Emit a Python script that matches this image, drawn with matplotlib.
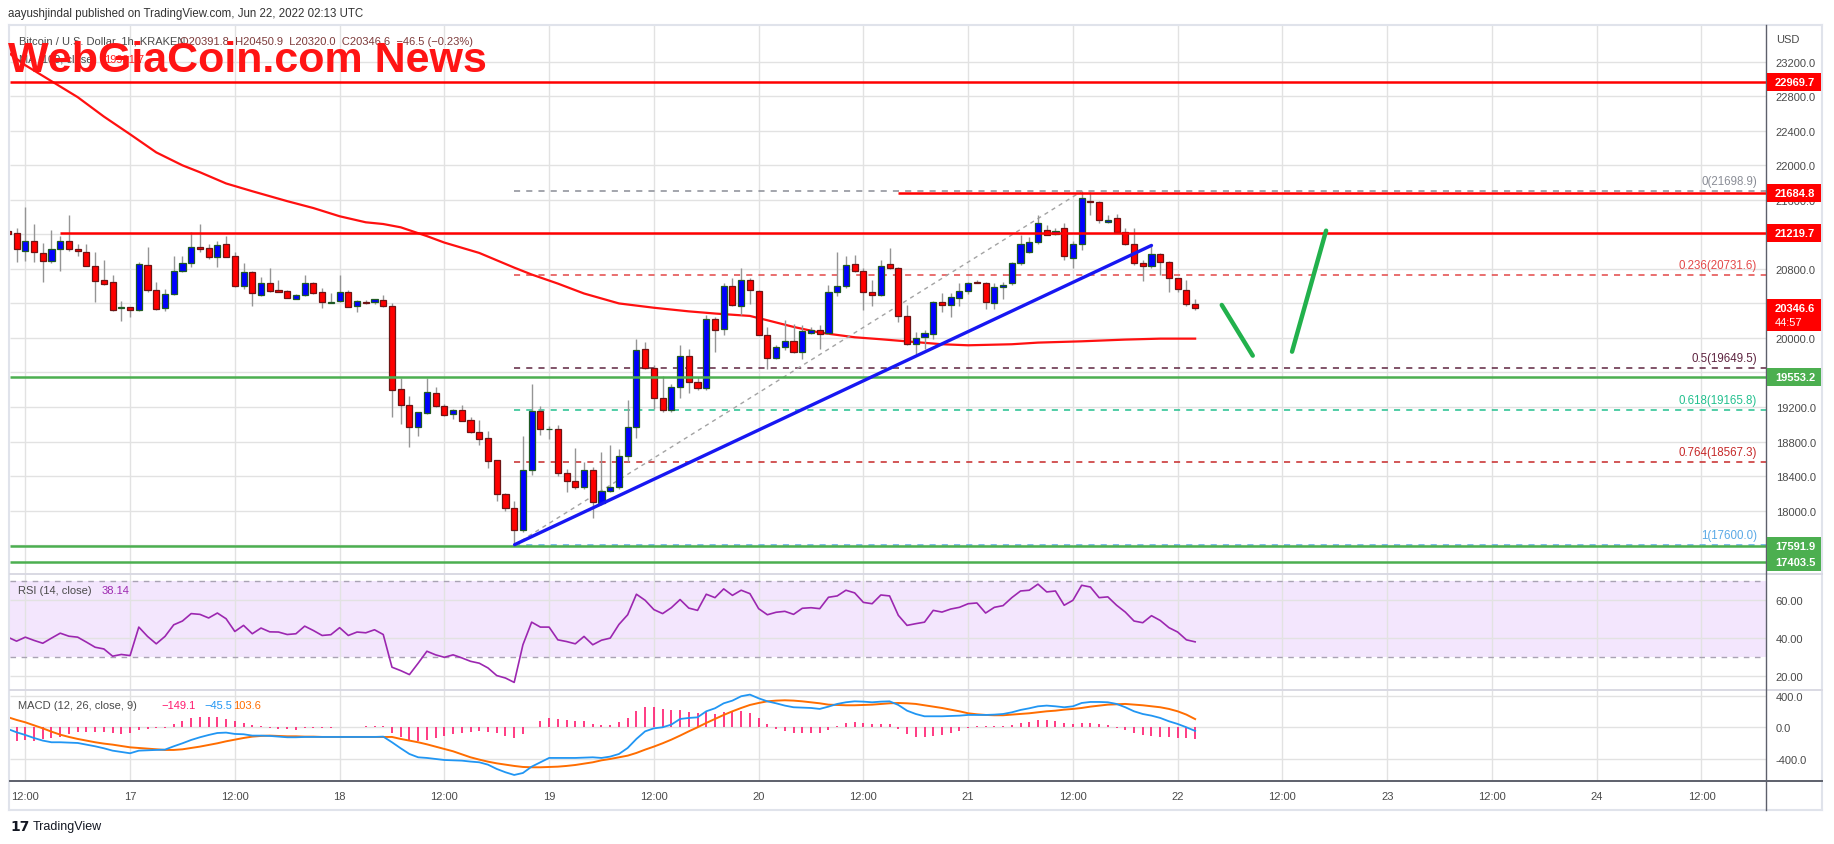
import numpy as np
import matplotlib
matplotlib.use("Agg")
import matplotlib.pyplot as plt
from matplotlib.patches import Rectangle
from matplotlib.lines import Line2D
from matplotlib.ticker import FormatStrFormatter

plt.rcParams['font.family'] = ['Liberation Sans', 'DejaVu Sans']

# ---------------- data (hours since 16 Jun 2022 12:00 UTC, 1h candles) ----------------
hours = list(range(-2, 135))

opens = [21240, 21214, 21005, 21129, 20982, 20889, 21028, 21121, 21028, 20994,
         20831, 20673, 20646, 20345, 20356, 20321, 20843, 20553, 20344, 20506,
         20773, 20870, 21051, 21040, 20943, 21086, 20947, 20607, 20762, 20503,
         20634, 20557, 20542, 20456, 20495, 20634, 20530, 20410, 20433, 20530,
         20368, 20421, 20414, 20437, 20368, 19405, 19219, 18964, 19127, 19359,
         19208, 19115, 19165, 19050, 18907, 18837, 18582, 18188, 18025, 17770,
         18474, 19154, 18940, 18944, 18433, 18348, 18270, 18471, 18084, 18224,
         18270, 18630, 18967, 19872, 19652, 19303, 19160, 19431, 19791, 19489,
         19419, 20221, 20105, 20604, 20372, 20673, 20546, 20039, 19768, 19896,
         19965, 19838, 20062, 20093, 20058, 20534, 20604, 20855, 20778, 20534,
         20495, 20855, 20805, 20252, 19934, 20008, 20043, 20418, 20379, 20464,
         20546, 20650, 20635, 20406, 20592, 20631, 20867, 20999, 21107, 21250,
         21200, 21277, 20929, 21091, 21591, 21579, 21339, 21393, 21231, 21084,
         20871, 20836, 20968, 20882, 20697, 20561, 20391.8]
highs = [21290, 21272, 21515, 21322, 21102, 21245, 21187, 21426, 21090, 21090,
         20994, 20905, 20731, 20425, 20360, 20878, 21051, 20646, 20568, 20955,
         20955, 21233, 21322, 21090, 21129, 21187, 21001, 20870, 20770, 20704,
         20808, 20677, 20557, 20510, 20731, 20646, 20584, 20522, 20731, 20557,
         20445, 20437, 20452, 20499, 20406, 19532, 19332, 19146, 19540, 19428,
         19235, 19177, 19223, 19081, 19050, 18918, 18590, 18203, 18110, 18868,
         19467, 19216, 18985, 18986, 18483, 18723, 18560, 18502, 18677, 18754,
         18715, 19284, 19992, 19954, 19683, 19559, 19470, 19923, 19876, 19547,
         20263, 20244, 20631, 20689, 20805, 20689, 20553, 20128, 19915, 20205,
         20166, 20147, 20128, 20147, 20619, 20999, 20948, 20960, 20805, 20670,
         20902, 21037, 20824, 20379, 20070, 20089, 20426, 20526, 20526, 20631,
         20650, 20670, 20650, 20631, 20650, 20882, 21192, 21173, 21424, 21308,
         21269, 21335, 21122, 21698.9, 21687, 21587, 21424, 21436, 21269, 21277,
         20902, 21076, 20979, 20890, 20700, 20670, 20450.9]
lows = [21180, 20878, 20897, 20885, 20653, 20870, 20781, 21013, 20955, 20831,
        20422, 20615, 20317, 20201, 20240, 20317, 20530, 20329, 20317, 20499,
        20762, 20820, 20994, 20916, 20827, 20936, 20588, 20568, 20368, 20491,
        20530, 20530, 20460, 20448, 20483, 20507, 20352, 20406, 20421, 20356,
        20306, 20394, 20394, 20364, 19084, 19003, 18732, 18868, 19119, 19196,
        19100, 19061, 19034, 18899, 18760, 18497, 18114, 17998, 17600, 17747,
        18412, 18876, 18830, 18406, 18220, 18251, 18251, 17910, 18060, 18212,
        18251, 18560, 18839, 19644, 19180, 19141, 19141, 19303, 19365, 19392,
        19392, 19838, 20031, 20372, 20271, 20399, 20031, 19644, 19752, 19857,
        19826, 19760, 20050, 19876, 20050, 20484, 20581, 20766, 20321, 20372,
        20488, 20797, 20186, 19923, 19818, 19876, 19992, 20302, 20244, 20372,
        20515, 20631, 20341, 20341, 20457, 20611, 20844, 20979, 21084, 21192,
        21192, 20902, 20805, 21018, 21424, 21327, 21330, 21211, 21076, 20844,
        20658, 20813, 20728, 20534, 20534, 20372, 20320.0]
closes = [21200, 21028, 21129, 20994, 20889, 21025, 21121, 21028, 21005, 20835,
          20657, 20622, 20321, 20355, 20321, 20854, 20553, 20333, 20506, 20773,
          20870, 21051, 21036, 20943, 21075, 20943, 20607, 20765, 20518, 20634,
          20549, 20538, 20468, 20495, 20634, 20526, 20414, 20418, 20530, 20364,
          20425, 20410, 20449, 20368, 19393, 19219, 18964, 19138, 19370, 19208,
          19111, 19165, 19042, 18907, 18825, 18578, 18188, 18025, 17770, 18474,
          19154, 18945, 18948, 18433, 18348, 18270, 18471, 18096, 18224, 18270,
          18630, 18967, 19865, 19652, 19303, 19160, 19431, 19791, 19489, 19419,
          20221, 20093, 20604, 20379, 20673, 20553, 20039, 19768, 19896, 19965,
          19838, 20081, 20093, 20050, 20534, 20604, 20844, 20774, 20534, 20495,
          20836, 20805, 20252, 19934, 20000, 20058, 20418, 20379, 20476, 20546,
          20639, 20635, 20418, 20592, 20615, 20867, 21091, 21107, 21335, 21196,
          21238, 20952, 21091, 21618, 21579, 21366, 21366, 21231, 21084, 20871,
          20836, 20975, 20882, 20697, 20565, 20392, 20346.6]

ma_hours = [-2, 0, 3, 6, 9, 12, 15, 18, 20, 23, 26, 30, 33, 36, 39, 41, 43, 46, 48, 52, 56,
            58, 61, 64, 68, 72, 76, 79, 83, 85, 88, 91, 95, 98, 101, 105, 108, 113, 116,
            121, 126, 130, 134]
ma_values = [23310, 23160, 22975, 22790, 22565, 22360, 22150, 22000, 21920, 21790, 21700,
             21585, 21505, 21410, 21340, 21320, 21282, 21180, 21105, 20985, 20815,
             20735, 20630, 20515, 20400, 20350, 20308, 20283, 20255, 20205, 20128, 20062,
             20008, 19985, 19960, 19927, 19915, 19927, 19946, 19961, 19981, 19992, 19992]

rsi = [40.6, 38.5, 40.6, 38.9, 37.4, 40.1, 42.7, 41.1, 40.6, 38.0,
       35.3, 34.4, 30.6, 31.5, 30.9, 45.9, 41.0, 37.1, 41.0, 47.1,
       49.1, 53.0, 52.6, 50.7, 53.3, 50.3, 43.6, 46.8, 42.4, 45.4,
       43.4, 43.3, 42.0, 42.4, 46.4, 44.1, 41.5, 41.9, 45.6, 41.5,
       43.3, 42.9, 44.5, 42.0, 24.8, 23.0, 20.9, 26.9, 33.2, 31.3,
       30.0, 31.3, 29.7, 27.9, 26.9, 24.4, 20.4, 19.1, 16.8, 36.6,
       48.5, 45.9, 45.9, 39.2, 38.3, 37.1, 41.0, 36.6, 39.0, 40.1,
       47.3, 52.4, 63.2, 60.0, 55.1, 53.0, 56.1, 60.4, 55.9, 54.7,
       63.2, 61.4, 66.0, 62.6, 65.3, 63.5, 55.6, 52.4, 53.7, 54.2,
       52.6, 55.8, 56.1, 55.6, 61.6, 62.3, 65.3, 63.9, 58.9, 58.2,
       62.8, 62.3, 52.1, 46.8, 47.7, 48.5, 54.7, 53.8, 55.4, 56.3,
       58.2, 58.6, 53.3, 56.3, 57.2, 61.4, 64.9, 65.3, 68.5, 64.4,
       64.9, 57.4, 60.0, 67.9, 67.0, 61.4, 61.8, 57.4, 53.8, 49.1,
       48.2, 51.9, 49.4, 45.6, 43.3, 39.2, 38.14]

macd = [-21, -63, -97, -135, -168, -189, -189, -194, -198, -219,
        -240, -265, -295, -312, -328, -295, -290, -286, -282, -240,
        -202, -160, -126, -97, -72, -67, -84, -88, -105, -105,
        -109, -118, -126, -126, -122, -122, -122, -122, -122, -122,
        -122, -122, -122, -118, -189, -265, -337, -379, -387, -400,
        -413, -417, -421, -433, -442, -472, -526, -568, -602, -577,
        -497, -442, -387, -387, -387, -387, -383, -379, -387, -370,
        -337, -261, -147, -51, -13, 0, 34, 105, 118, 126,
        202, 240, 303, 337, 392, 413, 366, 328, 303, 274,
        253, 248, 244, 232, 261, 295, 316, 328, 324, 316,
        324, 328, 282, 210, 168, 139, 139, 139, 143, 147,
        156, 156, 156, 160, 168, 189, 219, 240, 265, 274,
        265, 253, 265, 307, 320, 320, 316, 295, 253, 202,
        168, 147, 118, 76, 42, 0, -45.5]
signal = [128, 93, 63, 25, -13, -55, -93, -122, -147, -168,
          -189, -206, -219, -236, -253, -261, -269, -278, -286, -286,
          -278, -261, -244, -223, -202, -177, -156, -135, -118, -109,
          -105, -109, -114, -114, -118, -118, -122, -122, -122, -122,
          -122, -122, -122, -122, -122, -147, -168, -189, -215, -244,
          -274, -303, -341, -379, -408, -434, -455, -472, -488, -501,
          -505, -505, -501, -497, -488, -476, -459, -442, -417, -400,
          -379, -358, -324, -282, -244, -202, -156, -105, -51, 0,
          55, 105, 156, 202, 244, 282, 307, 328, 337, 341,
          337, 328, 316, 303, 286, 282, 278, 278, 282, 286,
          295, 303, 307, 303, 295, 278, 261, 244, 223, 202,
          177, 164, 156, 152, 152, 160, 168, 177, 189, 202,
          210, 223, 232, 244, 261, 274, 286, 290, 295, 286,
          278, 265, 253, 232, 202, 160, 103.6]
histogram = [-160, -168, -160, -168, -147, -139, -126, -84, -63, -63,
             -63, -63, -76, -80, -76, -34, -21, -13, -4, 42,
             84, 114, 131, 126, 126, 105, 76, 59, 29, 13,
             -8, -17, -25, -29, -8, -8, -8, -4, -2, -2,
             -1, 13, 17, 17, -72, -118, -156, -177, -156, -139,
             -114, -88, -72, -55, -51, -63, -76, -105, -135, -84,
             8, 84, 114, 101, 93, 84, 84, 42, 25, 29,
             67, 118, 210, 253, 253, 232, 223, 219, 194, 177,
             198, 168, 198, 198, 202, 177, 118, 42, -21, -51,
             -76, -76, -76, -67, -29, 17, 55, 72, 55, 42,
             42, 42, -21, -84, -118, -126, -105, -97, -72, -42,
             -13, 13, 13, 13, 17, 34, 59, 72, 97, 97,
             76, 55, 42, 59, 59, 42, 29, -4, -34, -76,
             -97, -105, -118, -118, -135, -139, -149.1]

fib_levels = [0, 0.236, 0.5, 0.618, 0.764, 1]
fib_prices = [21698.9, 20731.6, 19649.5, 19165.8, 18567.3, 17600.0]
fib_colors = ['#8a8d96', '#e34848', '#5e2440', '#22c08e', '#c62828', '#5aa9e6']
fib_start, fib_end = 56, 121

resistance_lines = [22969.7, 21684.8, 21219.7]
resistance_start = [-2, 100, 4]
support_lines = [19553.2, 17591.9, 17403.5]

time_tick_hours = list(range(0, 193, 12))
time_tick_labels = ['12:00', '17', '12:00', '18', '12:00', '19', '12:00', '20', '12:00',
                    '21', '12:00', '22', '12:00', '23', '12:00', '24', '12:00']

trend_hours = [56.05, 129.0]
trend_prices = [17605, 21072]
proj1_hours, proj1_prices = [137.05, 140.6], [20382, 19795]
proj2_hours, proj2_prices = [145.1, 149.0], [19841, 21243]

# ---------------- figure ----------------
W, H, DPI = 1834, 845, 100
fig = plt.figure(figsize=(W / DPI, H / DPI), dpi=DPI)
fig.patch.set_facecolor('white')

X_LEFT, X_AXIS, X_RIGHT = 10, 1766, 1822


def rect(top, bottom):
    return [X_LEFT / W, 1 - bottom / H, (X_AXIS - X_LEFT) / W, (bottom - top) / H]


ax_p = fig.add_axes(rect(26, 575))
ax_r = fig.add_axes(rect(575, 691))
ax_m = fig.add_axes(rect(691, 782.3))
T0, T1 = -1.753, 199.39
GRID = '#e2e2e2'
TXT = '#4a4a4a'

for ax in (ax_p, ax_r, ax_m):
    for s in ax.spines.values():
        s.set_visible(False)
    ax.set_facecolor('none')
    ax.vlines(time_tick_hours, -1e5, 1e5, color=GRID, lw=1, zorder=0.6)
    ax.yaxis.tick_right()
    ax.tick_params(axis='y', length=0, pad=7, labelsize=8, labelcolor=TXT)
    ax.tick_params(axis='x', length=0, labelbottom=False)
    ax.set_xlim(T0, T1)

ax_p.set_ylim(17265, 23626)
ax_r.set_ylim(12.8, 73.84)
ax_m.set_ylim(-682, 471)

# price panel
pticks = np.arange(17600, 23201, 400)
ax_p.hlines(pticks, T0, T1, color=GRID, lw=1, zorder=0.6)
ax_p.set_yticks(pticks)
ax_p.yaxis.set_major_formatter(FormatStrFormatter('%.1f'))

t = np.array(hours, dtype=float)
o = np.array(opens); h = np.array(highs); l = np.array(lows); c = np.array(closes)
up = c >= o
ax_p.plot(ma_hours, ma_values, color='#ff1010', lw=1.6, zorder=2)
ax_p.vlines(t, l, h, color='#959595', lw=1, zorder=3)
body = np.maximum(np.abs(c - o), 6)
ax_p.bar(t[up], body[up], bottom=o[up], width=0.7, color='#0000ff', edgecolor='#1f5a24',
         lw=0.9, zorder=4)
ax_p.bar(t[~up], body[~up], bottom=c[~up], width=0.7, color='#ff0000', edgecolor='#6e1414',
         lw=0.9, zorder=4)

# fibonacci
ax_p.plot([fib_start, fib_end], [fib_prices[-1], fib_prices[0]], color='#a3a3a3',
          ls=(0, (3, 3)), lw=1, zorder=2)
for lv, pr, col in zip(fib_levels, fib_prices, fib_colors):
    ax_p.hlines(pr, fib_start, T1, color=col, lw=1.1, linestyles=[(0, (4, 4))], zorder=1.5)

# S/R lines
for pr, st in zip(resistance_lines, resistance_start):
    ax_p.hlines(pr, max(st, T0), T1, color='#ff0000', lw=1.8, zorder=5)
for pr in support_lines:
    ax_p.hlines(pr, T0, T1, color='#4caf50', lw=1.8, zorder=5)

ax_p.plot(trend_hours, trend_prices, color='#1717f2', lw=2.4, zorder=6, solid_capstyle='round')
ax_p.plot(proj1_hours, proj1_prices, color='#22b14c', lw=3.2, zorder=6, solid_capstyle='round')
ax_p.plot(proj2_hours, proj2_prices, color='#22b14c', lw=3.2, zorder=6, solid_capstyle='round')

# RSI panel
ax_r.axhspan(30, 70, color='#f3e6fd', zorder=0.3, lw=0)
ax_r.hlines([20, 40, 60], T0, T1, color=GRID, lw=1, zorder=0.6)
ax_r.hlines([30, 70], T0, T1, color='#a9a3b3', lw=1, linestyles=[(0, (4, 4))], zorder=0.7)
ax_r.plot(hours, rsi, color='#9c27b0', lw=1.2, zorder=3)
ax_r.set_yticks([20, 40, 60])
ax_r.yaxis.set_major_formatter(FormatStrFormatter('%.2f'))

# MACD panel
ax_m.hlines([-400, 0, 400], T0, T1, color=GRID, lw=1, zorder=0.6)
ax_m.vlines(hours, 0, histogram, color='#ff1a6e', lw=1.2, zorder=2)
ax_m.plot(hours, signal, color='#ff6d00', lw=1.4, zorder=3)
ax_m.plot(hours, macd, color='#2196f3', lw=1.3, zorder=4)
ax_m.set_yticks([-400, 0, 400])
ax_m.yaxis.set_major_formatter(FormatStrFormatter('%.1f'))
ax_m.set_xticks(time_tick_hours)
ax_m.set_xticklabels(time_tick_labels)
ax_m.tick_params(axis='x', length=0, labelbottom=True, pad=7, labelsize=8, labelcolor=TXT)


# ---------------- frame lines ----------------
def fline(x0, y0, x1, y1, **kw):
    fig.add_artist(Line2D([x0 / W, x1 / W], [1 - y0 / H, 1 - y1 / H],
                          transform=fig.transFigure, **kw))


FR = '#e0e3eb'
fline(9, 26, X_RIGHT, 26, color=FR, lw=1.5)
fline(9, 26, 9, 811, color=FR, lw=1.5)
fline(X_RIGHT, 26, X_RIGHT, 811, color=FR, lw=1.5)
fline(9, 811, X_RIGHT, 811, color=FR, lw=1.5)
fline(X_LEFT, 575, X_RIGHT, 575, color='#d9d9e3', lw=1.4)
fline(X_LEFT, 691, X_RIGHT, 691, color='#d9d9e3', lw=1.4)
fline(X_LEFT, 782.3, X_RIGHT, 782.3, color='#5d606b', lw=1.4)
fline(X_AXIS, 26, X_AXIS, 811, color='#5d606b', lw=1.0)


# ---------------- right-axis labels ----------------
def ypix(ax, v):
    return ax.transData.transform((0, v))[1]


def price_box(v, color, text, sub=None):
    y = ypix(ax_p, v)
    if sub is None:
        y0, hh = y - 9, 18
    else:
        y0, hh = y - 23, 32
    fig.add_artist(Rectangle(((X_AXIS + 1) / W, y0 / H), (X_RIGHT - X_AXIS - 2) / W, hh / H,
                             transform=fig.transFigure, facecolor=color, edgecolor='none',
                             zorder=10))
    fig.text((X_AXIS + 9) / W, y / H, text, color='white', fontsize=8, fontweight='bold',
             va='center', ha='left', zorder=11)
    if sub is not None:
        fig.text((X_AXIS + 9) / W, (y - 14) / H, sub, color='white', fontsize=8,
                 va='center', ha='left', zorder=11)


for pr in resistance_lines:
    price_box(pr, '#ff0000', f'{pr:.1f}')
price_box(closes[-1], '#ff0000', f'{closes[-1]:.1f}', sub='44:57')
for pr in support_lines:
    price_box(pr, '#4caf50', f'{pr:.1f}')

fig.text((X_AXIS + 10) / W, 1 - 40 / H, 'USD', fontsize=8, color=TXT, va='center', ha='left')

# fib labels
for lv, pr, col in zip(fib_levels, fib_prices, fib_colors):
    y = ypix(ax_p, pr) + 10
    fig.text(1757 / W, y / H, f'{lv}({pr:.1f})', color=col, fontsize=8.3, ha='right',
             va='center', zorder=9)

# ---------------- texts ----------------
fig.text(8 / W, 1 - 14 / H, 'aayushjindal published on TradingView.com, Jun 22, 2022 02:13 UTC',
         fontsize=8.3, color='#333333', va='center', ha='left')

fig.text(19 / W, 1 - 42 / H, 'Bitcoin / U.S. Dollar, 1h, KRAKEN', fontsize=8, color=TXT,
         va='center', ha='left')
fig.text(180 / W, 1 - 42 / H,
         f'O{opens[-1]:.1f}  H{highs[-1]:.1f}  L{lows[-1]:.1f}  C{closes[-1]:.1f}  \u221246.5 (\u22120.23%)',
         fontsize=8, color='#7d3a3a', va='center', ha='left')
fig.text(19 / W, 1 - 60 / H, 'MA (100, close)', fontsize=8, color=TXT, va='center', ha='left')
fig.text(104 / W, 1 - 60 / H, '19991.7', fontsize=8, color='#ff2020', va='center', ha='left')

fig.text(17.5 / W, 1 - 591 / H, 'RSI (14, close)', fontsize=8, color=TXT, va='center', ha='left')
fig.text(102 / W, 1 - 591 / H, f'{rsi[-1]:.2f}', fontsize=8, color='#9c27b0', va='center', ha='left')

my = 1 - 705.7 / H
fig.text(17.5 / W, my, 'MACD (12, 26, close, 9)', fontsize=8, color=TXT, va='center', ha='left')
fig.text(161.5 / W, my, '\u2212149.1', fontsize=8, color='#ff1a6e', va='center', ha='left')
fig.text(204 / W, my, '\u221245.5', fontsize=8, color='#2196f3', va='center', ha='left')
fig.text(232.7 / W, my, '103.6', fontsize=8, color='#ff6d00', va='center', ha='left')

# watermark
fig.text(8 / W, 1 - 72 / H, 'WebGiaCoin.com News', fontsize=31, fontweight='bold',
         color='#ff1414', va='baseline', ha='left', zorder=20,
         family=['Liberation Sans Narrow', 'Liberation Sans', 'DejaVu Sans'])

# footer
fig.text(10 / W, 1 - 827 / H, '17', fontsize=10, fontweight='heavy', color='#131722',
         va='center', ha='left', family=['DejaVu Sans'])
fig.text(33 / W, 1 - 827 / H, 'TradingView', fontsize=9, color='#131722', va='center', ha='left')

fig.savefig('out.png', dpi=DPI, facecolor='white')
